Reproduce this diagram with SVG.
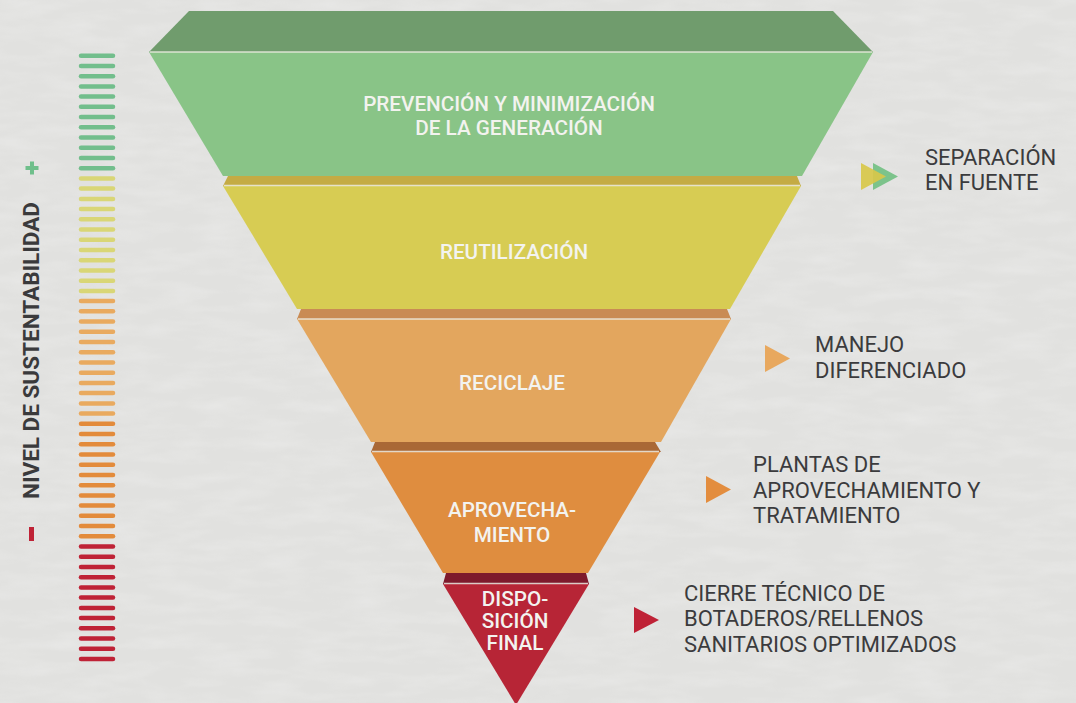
<svg xmlns="http://www.w3.org/2000/svg" width="1076" height="703" viewBox="0 0 1076 703">
<defs>
<filter id="tex" x="0" y="0" width="100%" height="100%">
<feTurbulence type="fractalNoise" baseFrequency="0.02 0.08" numOctaves="3" seed="4"/>
<feColorMatrix type="matrix" values="0 0 0 0 1  0 0 0 0 1  0 0 0 0 1  0 0 0 -1.2 0.75"/>
</filter>
</defs>
<style>
.lbl{font-family:Roboto,"Liberation Sans",sans-serif;font-size:20.7px;fill:#f3f3ef;text-anchor:middle;font-weight:500}
.side{font-family:Roboto,"Liberation Sans",sans-serif;font-size:22px;fill:#3b3b3d}
.sep{stroke:#ecebe2;stroke-width:1.6;opacity:0.85}
.bar{stroke-width:4.5;stroke-linecap:round;fill:none}
.bg{stroke:#72be8c}.by{stroke:#d9d676}.blo{stroke:#e9aa5f}.bo{stroke:#e38b3b}.br{stroke:#bf2236}
</style>
<rect width="1076" height="703" fill="#e1e1df"/>
<rect width="1076" height="703" filter="url(#tex)" opacity="0.3"/>

<g id="scale">
<g class="bar bg">
<line x1="81" y1="55.7" x2="113" y2="55.7"/><line x1="81" y1="65.9" x2="113" y2="65.9"/><line x1="81" y1="76.2" x2="113" y2="76.2"/><line x1="81" y1="86.4" x2="113" y2="86.4"/><line x1="81" y1="96.6" x2="113" y2="96.6"/><line x1="81" y1="106.8" x2="113" y2="106.8"/><line x1="81" y1="117.1" x2="113" y2="117.1"/><line x1="81" y1="127.3" x2="113" y2="127.3"/><line x1="81" y1="137.5" x2="113" y2="137.5"/><line x1="81" y1="147.7" x2="113" y2="147.7"/><line x1="81" y1="158.0" x2="113" y2="158.0"/><line x1="81" y1="168.2" x2="113" y2="168.2"/>
</g>
<g class="bar by">
<line x1="81" y1="178.4" x2="113" y2="178.4"/><line x1="81" y1="188.6" x2="113" y2="188.6"/><line x1="81" y1="198.9" x2="113" y2="198.9"/><line x1="81" y1="209.1" x2="113" y2="209.1"/><line x1="81" y1="219.3" x2="113" y2="219.3"/><line x1="81" y1="229.5" x2="113" y2="229.5"/><line x1="81" y1="239.8" x2="113" y2="239.8"/><line x1="81" y1="250.0" x2="113" y2="250.0"/><line x1="81" y1="260.2" x2="113" y2="260.2"/><line x1="81" y1="270.4" x2="113" y2="270.4"/><line x1="81" y1="280.7" x2="113" y2="280.7"/><line x1="81" y1="290.9" x2="113" y2="290.9"/>
</g>
<g class="bar blo">
<line x1="81" y1="301.1" x2="113" y2="301.1"/><line x1="81" y1="311.3" x2="113" y2="311.3"/><line x1="81" y1="321.6" x2="113" y2="321.6"/><line x1="81" y1="331.8" x2="113" y2="331.8"/><line x1="81" y1="342.0" x2="113" y2="342.0"/><line x1="81" y1="352.2" x2="113" y2="352.2"/><line x1="81" y1="362.5" x2="113" y2="362.5"/><line x1="81" y1="372.7" x2="113" y2="372.7"/><line x1="81" y1="382.9" x2="113" y2="382.9"/><line x1="81" y1="393.1" x2="113" y2="393.1"/><line x1="81" y1="403.4" x2="113" y2="403.4"/><line x1="81" y1="413.6" x2="113" y2="413.6"/>
</g>
<g class="bar bo">
<line x1="81" y1="423.8" x2="113" y2="423.8"/><line x1="81" y1="434.0" x2="113" y2="434.0"/><line x1="81" y1="444.3" x2="113" y2="444.3"/><line x1="81" y1="454.5" x2="113" y2="454.5"/><line x1="81" y1="464.7" x2="113" y2="464.7"/><line x1="81" y1="474.9" x2="113" y2="474.9"/><line x1="81" y1="485.2" x2="113" y2="485.2"/><line x1="81" y1="495.4" x2="113" y2="495.4"/><line x1="81" y1="505.6" x2="113" y2="505.6"/><line x1="81" y1="515.8" x2="113" y2="515.8"/><line x1="81" y1="526.1" x2="113" y2="526.1"/><line x1="81" y1="536.3" x2="113" y2="536.3"/>
</g>
<g class="bar br">
<line x1="81" y1="546.5" x2="113" y2="546.5"/><line x1="81" y1="556.7" x2="113" y2="556.7"/><line x1="81" y1="567.0" x2="113" y2="567.0"/><line x1="81" y1="577.2" x2="113" y2="577.2"/><line x1="81" y1="587.4" x2="113" y2="587.4"/><line x1="81" y1="597.6" x2="113" y2="597.6"/><line x1="81" y1="607.9" x2="113" y2="607.9"/><line x1="81" y1="618.1" x2="113" y2="618.1"/><line x1="81" y1="628.3" x2="113" y2="628.3"/><line x1="81" y1="638.5" x2="113" y2="638.5"/><line x1="81" y1="648.8" x2="113" y2="648.8"/><line x1="81" y1="659.0" x2="113" y2="659.0"/>
</g>
<g fill="#6fbf8b"><rect x="25.5" y="166" width="13" height="4"/><rect x="30" y="161.5" width="4" height="13"/></g>
<rect x="29" y="527" width="5" height="14" fill="#bf2236"/>
<text transform="translate(39,499) rotate(-90)" font-family="Roboto,'Liberation Sans',sans-serif" font-weight="700" font-size="22.5" fill="#3a3a3c" textLength="297" lengthAdjust="spacingAndGlyphs">NIVEL DE SUSTENTABILIDAD</text>
</g>

<g id="prevencion">
<polygon points="189,11 833,11 873,52 149,52" fill="#709c6d"/>
<polygon points="149,52 873,52 802,176 223,176" fill="#89c487"/>
<line class="sep" x1="150" y1="52" x2="872" y2="52"/>
<text class="lbl" x="509" y="111">PREVENCIÓN Y MINIMIZACIÓN</text>
<text class="lbl" x="509" y="135">DE LA GENERACIÓN</text>
</g>

<g id="reutilizacion">
<polygon points="228,176 797,176 801,186 223,186" fill="#c4ab44"/>
<polygon points="223,186 801,186 730,309 297,309" fill="#d7cc53"/>
<line class="sep" x1="224" y1="185.5" x2="800" y2="185.5"/>
<text class="lbl" x="514" y="259">REUTILIZACIÓN</text>
</g>

<g id="reciclaje">
<polygon points="301,309 727,309 731,319 297,319" fill="#c98b54"/>
<polygon points="297,319 731,319 661,442 371,442" fill="#e3a65e"/>
<line class="sep" x1="298" y1="319" x2="730" y2="319"/>
<text class="lbl" x="512" y="390">RECICLAJE</text>
</g>

<g id="aprovechamiento">
<polygon points="375,442 655,442 661,452 371,452" fill="#a96836"/>
<polygon points="371,452 660,452 588,573 443,573" fill="#df8d3f"/>
<line class="sep" x1="372" y1="451.5" x2="659" y2="451.5"/>
<text class="lbl" x="512" y="517">APROVECHA-</text>
<text class="lbl" x="512" y="542">MIENTO</text>
</g>

<g id="disposicion">
<polygon points="446,573 586,573 589,584 443,584" fill="#7e1a2c"/>
<polygon points="443,584 589,584 516,705" fill="#b72536"/>
<line class="sep" x1="444" y1="583.5" x2="588" y2="583.5"/>
<text class="lbl" x="515" y="606" font-size="17">DISPO-</text>
<text class="lbl" x="515" y="628" font-size="17">SICIÓN</text>
<text class="lbl" x="515" y="650" font-size="17">FINAL</text>
</g>

<g id="connectors">
<polygon points="873,163 898,176.5 873,190" fill="#7cc38b"/>
<polygon points="861,163 886,176.5 861,190" fill="#d8c84a" opacity="0.92"/>
<polygon points="765,345 790,358.5 765,372" fill="#e8a85e"/>
<polygon points="706,476 731,489.5 706,503" fill="#e38d3e"/>
<polygon points="634,607 659,620 634,633" fill="#bf2236"/>
</g>

<g id="separacion">
<text class="side" x="925" y="165">SEPARACIÓN</text>
<text class="side" x="925" y="190">EN FUENTE</text>
</g>
<g id="manejo">
<text class="side" x="815" y="352">MANEJO</text>
<text class="side" x="815" y="378">DIFERENCIADO</text>
</g>
<g id="plantas">
<text class="side" x="753" y="472">PLANTAS DE</text>
<text class="side" x="753" y="498">APROVECHAMIENTO Y</text>
<text class="side" x="753" y="523">TRATAMIENTO</text>
</g>
<g id="cierre">
<text class="side" x="684" y="601">CIERRE TÉCNICO DE</text>
<text class="side" x="684" y="626">BOTADEROS/RELLENOS</text>
<text class="side" x="684" y="652">SANITARIOS OPTIMIZADOS</text>
</g>
</svg>
